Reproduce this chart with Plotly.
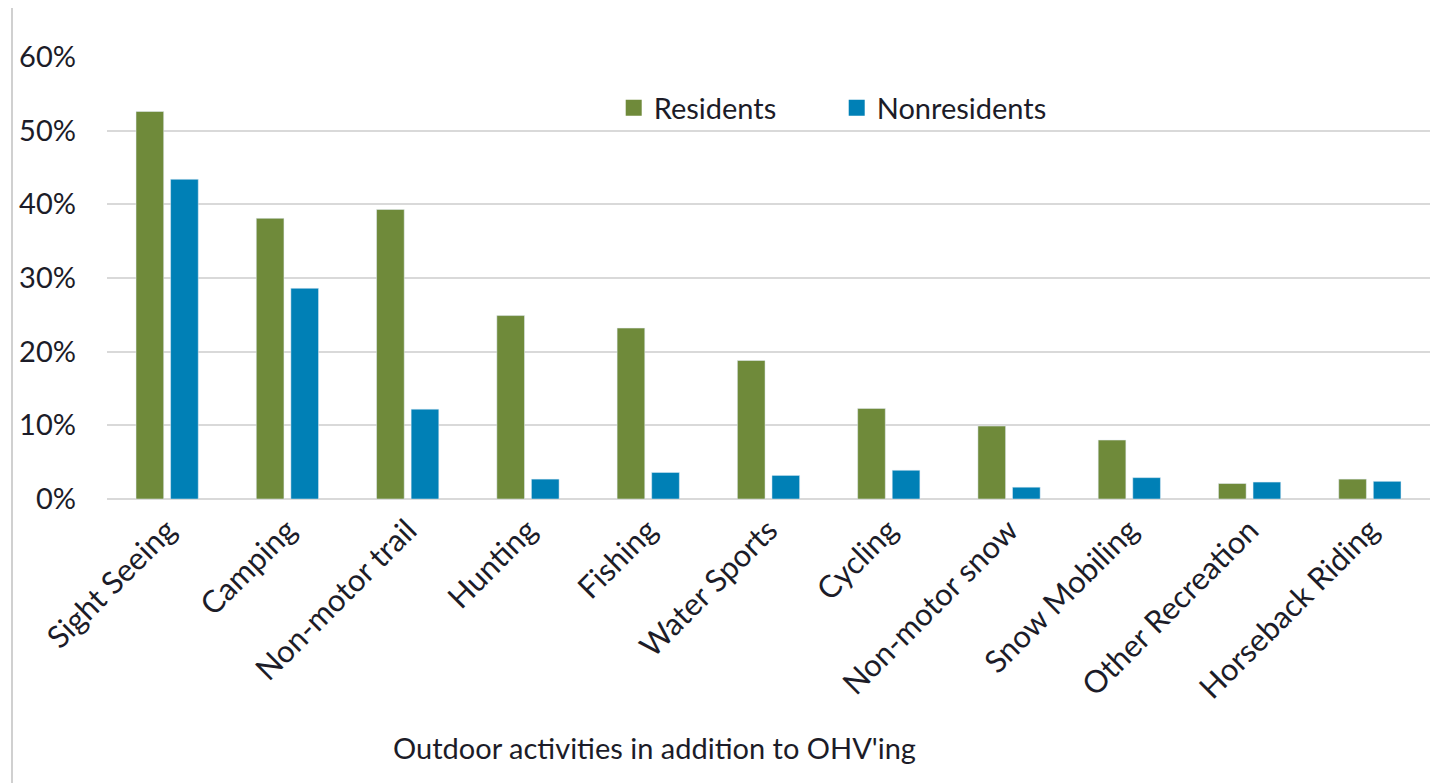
import plotly.graph_objects as go

categories = ["Sight Seeing", "Camping", "Non-motor trail", "Hunting", "Fishing",
              "Water Sports", "Cycling", "Non-motor snow", "Snow Mobiling",
              "Other Recreation", "Horseback Riding"]
residents = [0.526, 0.381, 0.393, 0.249, 0.232, 0.188, 0.123, 0.099, 0.080, 0.021, 0.027]
nonresidents = [0.434, 0.286, 0.122, 0.027, 0.036, 0.032, 0.039, 0.016, 0.029, 0.023, 0.024]
y_ticks = [0, 0.1, 0.2, 0.3, 0.4, 0.5, 0.6]

green = "#6f8a3a"
blue = "#0080b6"
txt = "#1c1c28"
font_name = "Lato, Open Sans, sans-serif"

fig = go.Figure()
fig.add_trace(go.Bar(x=categories, y=residents, name="Residents", marker_color=green,
                     showlegend=False))
fig.add_trace(go.Bar(x=categories, y=nonresidents, name="Nonresidents", marker_color=blue,
                     showlegend=False))
# legend entries with bigger square keys
fig.add_trace(go.Scatter(x=[None], y=[None], mode="markers", name="Residents",
                         marker=dict(symbol="square", size=18, color=green)))
fig.add_trace(go.Scatter(x=[None], y=[None], mode="markers", name="Nonresidents",
                         marker=dict(symbol="square", size=18, color=blue)))

# page body has an 8px margin, so margins are reduced by 8
fig.update_layout(
    width=1440, height=783,
    margin=dict(l=99, r=18, t=49, b=292),
    paper_bgcolor="white", plot_bgcolor="white",
    barmode="group", bargap=0.425, bargroupgap=0.2,
    font=dict(family=font_name, size=29, color=txt),
    showlegend=True,
    legend=dict(orientation="h", x=0.383, y=0.885, xanchor="left", yanchor="middle",
                font=dict(size=29), bgcolor="rgba(0,0,0,0)", itemwidth=30,
                entrywidth=178, entrywidthmode="pixels"),
)
fig.update_xaxes(tickangle=-45, showgrid=False, showline=False, ticks="",
                 tickfont=dict(size=31), ticklabelstandoff=6)
fig.update_yaxes(range=[0, 0.6], tickvals=y_ticks, tickformat=".0%",
                 showgrid=True, gridcolor="#d9d9d9", gridwidth=2,
                 zeroline=True, zerolinecolor="#d9d9d9", zerolinewidth=2,
                 ticks="", tickfont=dict(size=29), ticklabelstandoff=30)

# axis title placed like the original (left of plot centre)
fig.add_annotation(text="Outdoor activities in addition to OHV'ing", xref="paper", yref="paper",
                   x=0.414, y=-0.563, xanchor="center", yanchor="middle",
                   showarrow=False, font=dict(size=29, color=txt))

# chart frame (left and top edges visible)
fig.add_shape(type="line", xref="paper", yref="paper", x0=-0.0718, x1=-0.0718, y0=1.115, y1=-0.7,
              line=dict(color="#d0d0d0", width=2))
fig.add_shape(type="line", xref="paper", yref="paper", x0=-0.078, x1=1.02, y0=1.115, y1=1.115,
              line=dict(color="#d0d0d0", width=2))

fig.write_html("out.html")
